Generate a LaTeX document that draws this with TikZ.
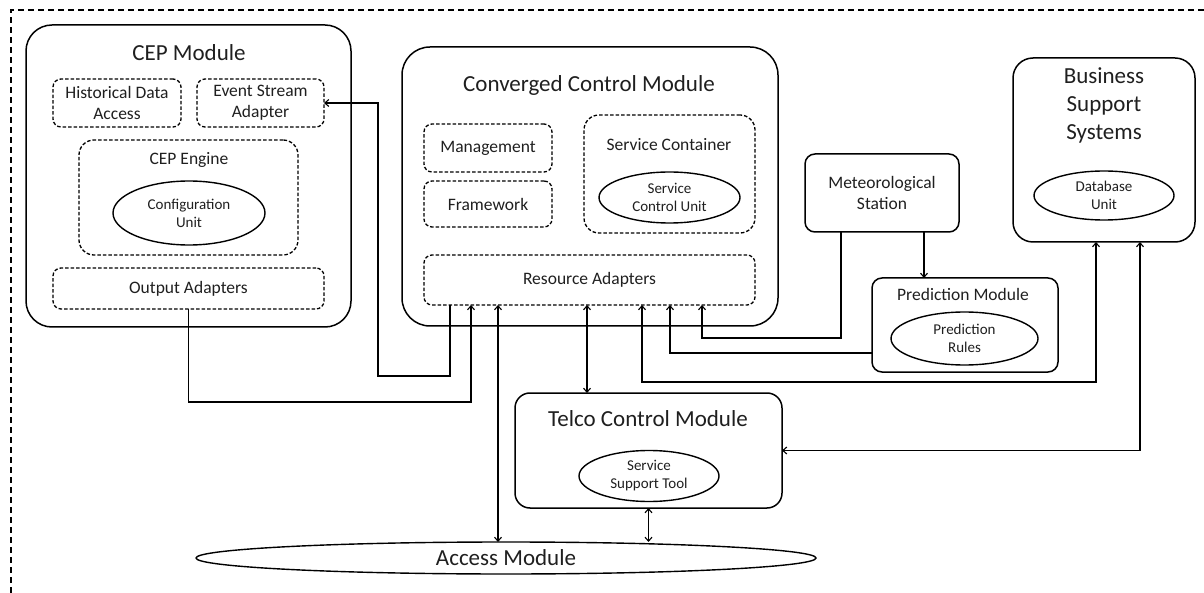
\documentclass[tikz,border=0pt]{standalone}
\usepackage{fontspec}
\setmainfont{Carlito}
\usetikzlibrary{shapes.geometric,arrows.meta}
\begin{document}
\begin{tikzpicture}[x=1pt,y=-1pt,
  every node/.style={inner sep=0pt, outer sep=0pt, text=black!88},
  modbox/.style={draw, line width=1.5pt, rounded corners=#1},
  modbox/.default=12pt,
  subbox/.style={draw, line width=1.3pt, dash pattern=on 3.5pt off 2pt, rounded corners=8pt, font=\fontsize{17.5}{21}\selectfont, align=center},
  unitell/.style={draw, ellipse, line width=1.4pt, font=\fontsize{15}{18}\selectfont, align=center},
  ttltext/.style={font=\fontsize{23}{28}\selectfont, align=center},
  lbltext/.style={font=\fontsize{17.5}{21}\selectfont, align=center},
  framestyle/.style={line width=1.2pt, dash pattern=on 6pt off 4pt},
  con/.style={line width=1.1pt},
  arr/.style={con, -{Straight Barb[length=4pt,width=7pt]}},
  darr/.style={con, {Straight Barb[length=4pt,width=7pt]}-{Straight Barb[length=4pt,width=7pt]}},
]
\useasboundingbox (0,0) rectangle (1204,593);
\draw[framestyle] (11,593) -- (11,10) -- (1204,10);

% CEP Module
\node[modbox=26pt, minimum width=325pt, minimum height=302pt] (cep) at (188.5,176) {};
\node[ttltext] (cepT) at (189,53) {CEP Module};
\node[subbox, minimum width=128pt, minimum height=48pt] (hda) at (117,103) {Historical Data\\Access};
\node[subbox, minimum width=127pt, minimum height=48pt] (esa) at (260.5,103) {Event Stream\\Adapter};
\node[subbox, rounded corners=15pt, minimum width=219pt, minimum height=115pt] (eng) at (188.5,197.5) {};
\node[lbltext] (engT) at (189,160) {CEP Engine};
\node[unitell, minimum width=152pt, minimum height=64pt] (cu) at (189,213) {Configuration\\Unit};
\node[subbox, minimum width=271pt, minimum height=41pt] (oa) at (188.5,288.5) {Output Adapters};

% Converged Control Module
\node[modbox=28pt, minimum width=376pt, minimum height=279pt] (ccm) at (590,186.5) {};
\node[ttltext] (ccmT) at (589,85) {Converged Control Module};
\node[subbox, minimum width=128pt, minimum height=48pt] (mgmt) at (488,148) {Management};
\node[subbox, minimum width=128pt, minimum height=46pt] (fw) at (488,204) {Framework};
\node[subbox, rounded corners=15pt, minimum width=171pt, minimum height=118pt] (sc) at (669.5,174) {};
\node[lbltext] (scT) at (669,145) {Service Container};
\node[unitell, minimum width=141pt, minimum height=51pt] (scu) at (669.5,197.5) {Service\\Control Unit};
\node[subbox, minimum width=331pt, minimum height=50pt] (ra) at (589.5,280) {Resource Adapters};

% Meteorological Station
\node[modbox=10pt, minimum width=154pt, minimum height=78pt, lbltext] (met) at (882,193) {Meteorological\\Station};

% Prediction Module
\node[modbox=10pt, minimum width=186pt, minimum height=94pt] (pm) at (965,325) {};
\node[lbltext] (pmT) at (963,294) {Prediction Module};
\node[unitell, minimum width=147pt, minimum height=53pt] (pr) at (964.5,338.5) {Prediction\\Rules};

% Business Support Systems
\node[modbox=20pt, minimum width=182pt, minimum height=184pt] (bss) at (1104,150) {};
\node[ttltext] (bssT) at (1104,105) {Business\\Support\\Systems};
\node[unitell, minimum width=140pt, minimum height=49pt] (db) at (1104,195.5) {Database\\Unit};

% Telco Control Module
\node[modbox=15pt, minimum width=267pt, minimum height=115pt] (tcm) at (648.5,450.5) {};
\node[ttltext] (tcmT) at (648,419) {Telco Control Module};
\node[unitell, minimum width=140pt, minimum height=51pt] (sst) at (649,476) {Service\\Support Tool};

% Access Module
\node[draw, ellipse, line width=1.4pt, minimum width=620pt, minimum height=32pt, ttltext] (am) at (506,558) {Access Module};

% connectors
\coordinate (p1) at (471,402);
\draw[arr] (oa.south) |- (p1) -- (p1 |- ra.south);

\coordinate (p2) at (450,376);
\coordinate (p3) at (378,376);
\draw[arr] (p2 |- ra.south) -- (p2) -- (p3) -- (p3 |- esa.east) -- (esa.east);

\coordinate (p4) at (498,0);
\draw[darr] (p4 |- ra.south) -- (p4 |- am.north);

\coordinate (p5) at (587,0);
\draw[darr] (p5 |- ra.south) -- (p5 |- tcm.north);

\draw[darr] (tcm.south) -- (tcm.south |- am.north);

\coordinate (p6) at (1140,0);
\draw[darr] (p6 |- bss.south) |- (tcm.east);

\coordinate (p7) at (642,382);
\coordinate (p8) at (1096,382);
\draw[darr] (p7 |- ra.south) -- (p7) -- (p8) -- (p8 |- bss.south);

\coordinate (p9) at (841,338);
\coordinate (p10) at (702,338);
\draw[arr] (p9 |- met.south) -- (p9) -- (p10) -- (p10 |- ra.south);

\coordinate (p11) at (924,0);
\draw[arr] (p11 |- met.south) -- (p11 |- pm.north);

\coordinate (p12) at (670,353);
\draw[arr] (p12 -| pm.west) -- (p12) -- (p12 |- ra.south);
\end{tikzpicture}
\end{document}
